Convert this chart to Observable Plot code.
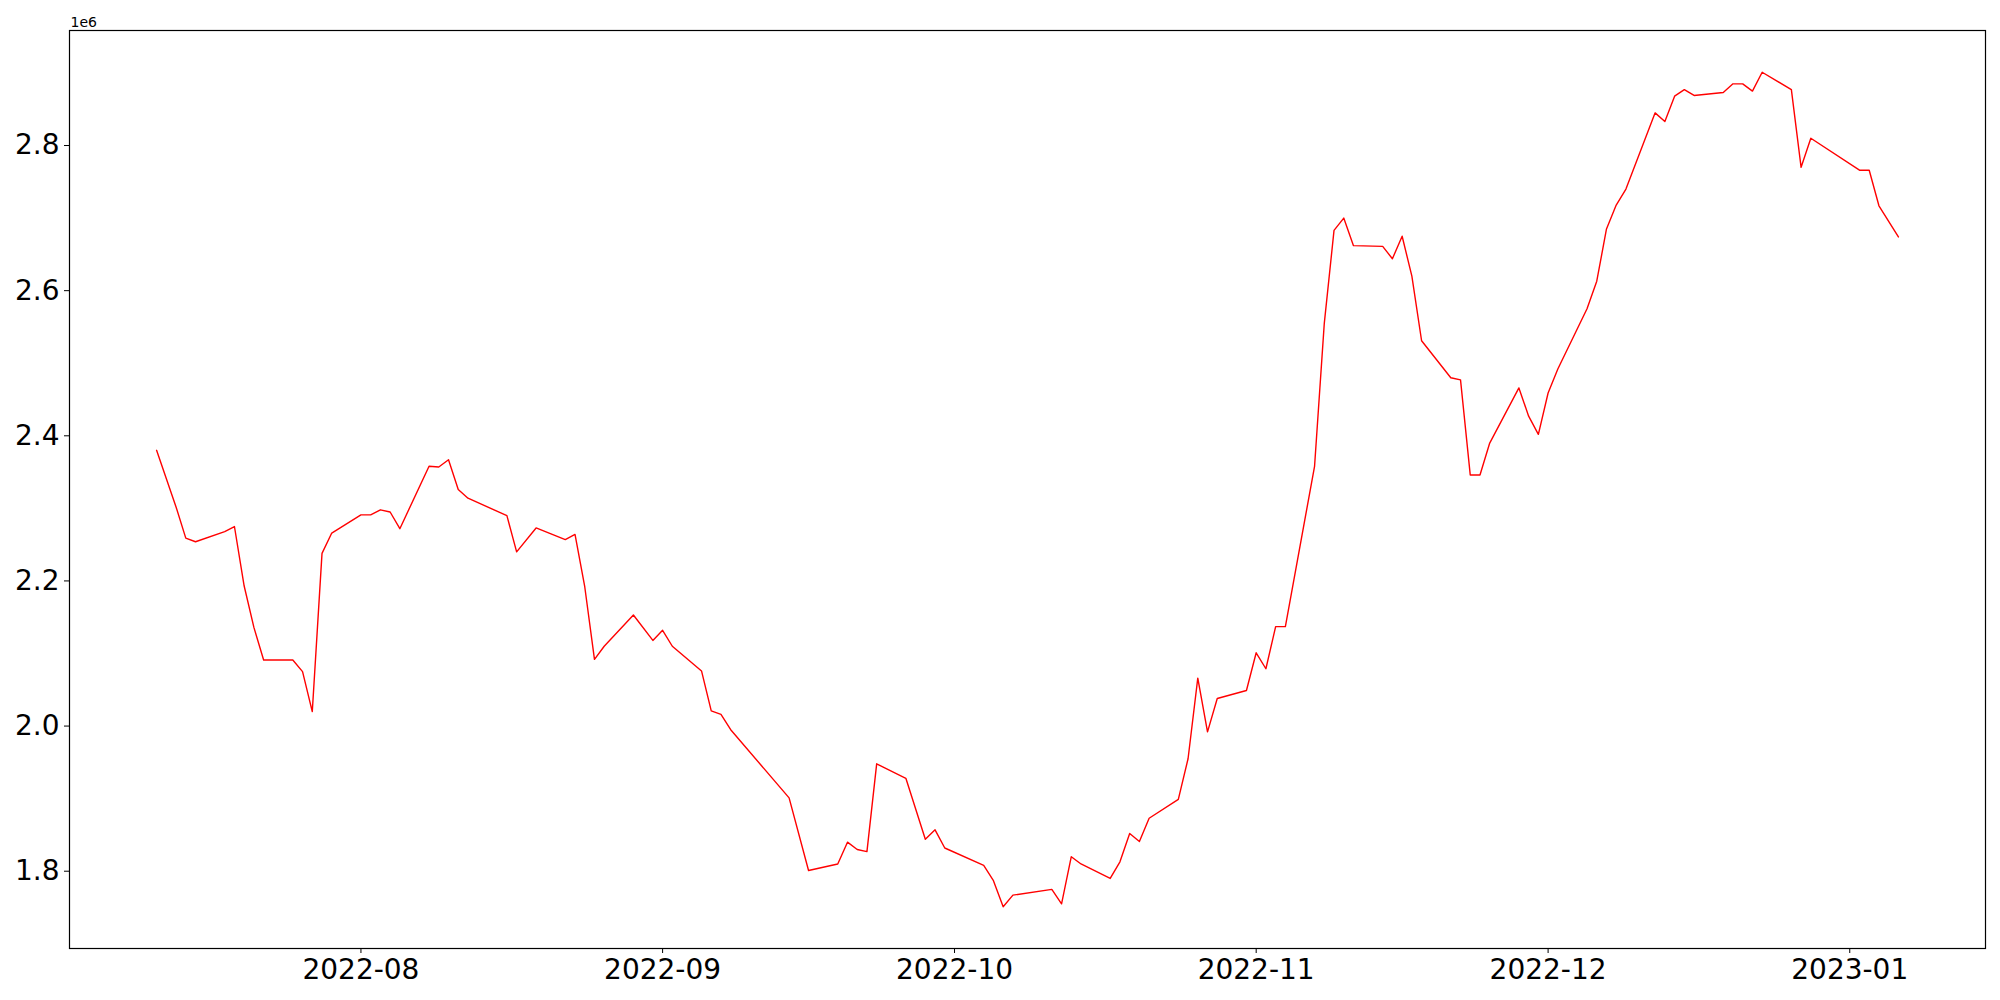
<!DOCTYPE html>
<html>
<head>
<meta charset="utf-8">
<script src="https://cdn.jsdelivr.net/npm/d3@7"></script>
<script src="https://cdn.jsdelivr.net/npm/@observablehq/plot@0.6"></script>
<style>
  html, body { margin: 0; padding: 0; background: white; }
</style>
</head>
<body>
<div id="chart"></div>
<script>
const dates = [
  "2022-07-11","2022-07-13","2022-07-14","2022-07-15","2022-07-18","2022-07-19","2022-07-20","2022-07-21","2022-07-22",
  "2022-07-25","2022-07-26","2022-07-27","2022-07-28","2022-07-29",
  "2022-08-01","2022-08-02","2022-08-03","2022-08-04","2022-08-05",
  "2022-08-08","2022-08-09","2022-08-10","2022-08-11","2022-08-12",
  "2022-08-16","2022-08-17","2022-08-19",
  "2022-08-22","2022-08-23","2022-08-24","2022-08-25","2022-08-26",
  "2022-08-29","2022-08-31","2022-09-01","2022-09-02",
  "2022-09-05","2022-09-06","2022-09-07","2022-09-08",
  "2022-09-14","2022-09-16",
  "2022-09-19","2022-09-20","2022-09-21","2022-09-22","2022-09-23",
  "2022-09-26","2022-09-28","2022-09-29","2022-09-30",
  "2022-10-04","2022-10-05","2022-10-06","2022-10-07",
  "2022-10-11","2022-10-12","2022-10-13","2022-10-14",
  "2022-10-17","2022-10-18","2022-10-19","2022-10-20","2022-10-21",
  "2022-10-24","2022-10-25","2022-10-26","2022-10-27","2022-10-28",
  "2022-10-31","2022-11-01","2022-11-02","2022-11-03","2022-11-04",
  "2022-11-07","2022-11-08","2022-11-09","2022-11-10","2022-11-11",
  "2022-11-14","2022-11-15","2022-11-16","2022-11-17","2022-11-18",
  "2022-11-21","2022-11-22","2022-11-23","2022-11-24","2022-11-25",
  "2022-11-28","2022-11-29","2022-11-30","2022-12-01","2022-12-02",
  "2022-12-05","2022-12-06","2022-12-07","2022-12-08","2022-12-09",
  "2022-12-12","2022-12-13","2022-12-14","2022-12-15","2022-12-16",
  "2022-12-19","2022-12-20","2022-12-21","2022-12-22","2022-12-23",
  "2022-12-26","2022-12-27","2022-12-28",
  "2023-01-02","2023-01-03","2023-01-04","2023-01-06"
];
const values = [
  2.380e6,2.302e6,2.259e6,2.254e6,2.268e6,2.275e6,2.193e6,2.136e6,2.091e6,
  2.091e6,2.075e6,2.020e6,2.238e6,2.266e6,
  2.291e6,2.291e6,2.298e6,2.295e6,2.272e6,
  2.358e6,2.357e6,2.367e6,2.326e6,2.314e6,
  2.290e6,2.240e6,2.273e6,
  2.257e6,2.264e6,2.192e6,2.092e6,2.110e6,
  2.153e6,2.118e6,2.132e6,2.110e6,
  2.076e6,2.021e6,2.016e6,1.995e6,
  1.901e6,1.801e6,
  1.810e6,1.840e6,1.830e6,1.827e6,1.948e6,
  1.928e6,1.844e6,1.857e6,1.832e6,
  1.808e6,1.787e6,1.751e6,1.767e6,
  1.775e6,1.755e6,1.820e6,1.810e6,
  1.790e6,1.813e6,1.852e6,1.841e6,1.873e6,
  1.899e6,1.955e6,2.066e6,1.992e6,2.038e6,
  2.049e6,2.101e6,2.079e6,2.137e6,2.137e6,
  2.358e6,2.555e6,2.683e6,2.700e6,2.662e6,
  2.661e6,2.644e6,2.675e6,2.620e6,2.531e6,
  2.480e6,2.477e6,2.346e6,2.346e6,2.390e6,
  2.466e6,2.427e6,2.402e6,2.459e6,2.492e6,
  2.575e6,2.613e6,2.685e6,2.718e6,2.740e6,
  2.845e6,2.833e6,2.868e6,2.877e6,2.869e6,
  2.873e6,2.885e6,2.885e6,2.875e6,2.901e6,
  2.877e6,2.770e6,2.810e6,
  2.766e6,2.766e6,2.717e6,2.674e6
];
const xTicks = ["2022-08-01","2022-09-01","2022-10-01","2022-11-01","2022-12-01","2023-01-01"];
const yTicks = [1.8e6, 2.0e6, 2.2e6, 2.4e6, 2.6e6, 2.8e6];
const offsetLabel = "1e6";

const parse = d3.utcParse("%Y-%m-%d");
const data = dates.map((d, i) => ({date: parse(d), value: values[i]}));

// matplotlib-like 5% margins
const [x0, x1] = d3.extent(data, d => +d.date);
const [y0, y1] = d3.extent(data, d => d.value);
const xPad = (x1 - x0) * 0.05, yPad = (y1 - y0) * 0.05;

const chart = Plot.plot({
  width: 2000,
  height: 1000,
  marginLeft: 69,
  marginRight: 15,
  marginTop: 30,
  marginBottom: 52,
  style: {fontFamily: "'DejaVu Sans', sans-serif", fontSize: "28px", background: "white", color: "black"},
  x: {type: "utc", domain: [new Date(x0 - xPad), new Date(x1 + xPad)]},
  y: {domain: [y0 - yPad, y1 + yPad]},
  marks: [
    Plot.axisX({ticks: xTicks.map(parse), tickFormat: d3.utcFormat("%Y-%m"), tickSize: 5, tickPadding: 6, label: null, fontSize: 28}),
    Plot.axisY({ticks: yTicks, tickFormat: v => (v / 1e6).toFixed(1), tickSize: 5, tickPadding: 5, label: null, fontSize: 28}),
    Plot.line(data, {x: "date", y: "value", stroke: "red", strokeWidth: 1.4}),
    Plot.frame({stroke: "black", strokeWidth: 1.2}),
    Plot.text([offsetLabel], {frameAnchor: "top-left", text: d => d, textAnchor: "start", lineAnchor: "bottom", dx: 1, dy: -4, fontSize: 14})
  ]
});
document.getElementById("chart").appendChild(chart);
</script>
</body>
</html>
